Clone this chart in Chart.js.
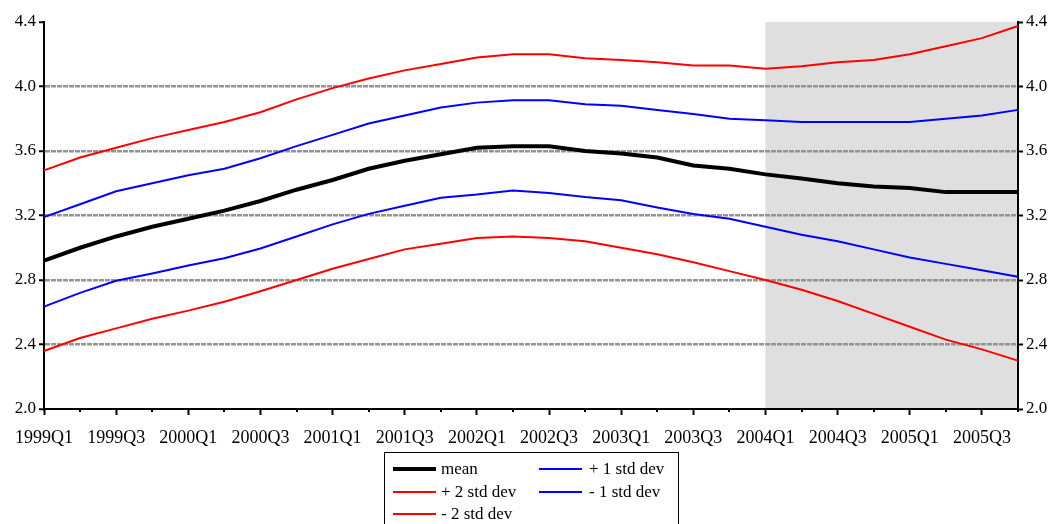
<!DOCTYPE html>
<html>
<head>
<meta charset="utf-8">
<title>Forecast bands</title>
<style>
  html, body { margin: 0; padding: 0; background: #fff; overflow: hidden; }
  #wrap { position: relative; width: 1053px; height: 524px; overflow: hidden; }
  #legend {
    position: absolute; left: 384px; top: 452px; width: 295px; height: 90px;
    border: 1.5px solid #000; box-sizing: border-box;
    font-family: 'Liberation Serif', serif; font-size: 17px; color: #000;
  }
  .item { position: absolute; height: 22px; line-height: 22px; width: 140px; }
  .swatch { position: absolute; left: 0; width: 43px; }
  .label { position: absolute; white-space: nowrap; }
</style>
<script src="https://cdn.jsdelivr.net/npm/chart.js@4.4.0/dist/chart.umd.min.js"></script>
</head>
<body>
<div id="wrap">
  <canvas id="Chart" width="1053" height="524"></canvas>
  <div id="legend"></div>
</div>
<script>
    // quarters 1999Q1 .. 2005Q4
    var quarters = ['1999Q1','1999Q2','1999Q3','1999Q4','2000Q1','2000Q2','2000Q3','2000Q4',
                    '2001Q1','2001Q2','2001Q3','2001Q4','2002Q1','2002Q2','2002Q3','2002Q4',
                    '2003Q1','2003Q2','2003Q3','2003Q4','2004Q1','2004Q2','2004Q3','2004Q4',
                    '2005Q1','2005Q2','2005Q3','2005Q4'];
    var shadeFrom = '2004Q1';
    var yTicks = [2.0, 2.4, 2.8, 3.2, 3.6, 4.0, 4.4];

    var mean   = [2.92, 3.00, 3.07, 3.13, 3.18, 3.23, 3.29, 3.36, 3.42, 3.49, 3.54, 3.58, 3.62, 3.63,
                  3.63, 3.60, 3.585, 3.56, 3.51, 3.49, 3.455, 3.43, 3.40, 3.38, 3.37, 3.345, 3.345, 3.345];
    var plus2  = [3.48, 3.56, 3.62, 3.68, 3.73, 3.78, 3.84, 3.92, 3.99, 4.05, 4.10, 4.14, 4.18, 4.20,
                  4.20, 4.175, 4.165, 4.15, 4.13, 4.13, 4.11, 4.125, 4.15, 4.165, 4.20, 4.25, 4.30, 4.375];
    var minus2 = [2.36, 2.44, 2.50, 2.56, 2.61, 2.665, 2.73, 2.80, 2.87, 2.93, 2.99, 3.025, 3.06, 3.07,
                  3.06, 3.04, 3.00, 2.96, 2.91, 2.855, 2.80, 2.74, 2.67, 2.59, 2.51, 2.43, 2.37, 2.30];
    var plus1  = [3.19, 3.27, 3.35, 3.40, 3.45, 3.49, 3.555, 3.63, 3.70, 3.77, 3.82, 3.87, 3.90, 3.915,
                  3.915, 3.89, 3.88, 3.855, 3.83, 3.80, 3.79, 3.78, 3.78, 3.78, 3.78, 3.80, 3.82, 3.855];
    var minus1 = [2.635, 2.72, 2.795, 2.84, 2.89, 2.935, 2.995, 3.07, 3.145, 3.21, 3.26, 3.31, 3.33, 3.355,
                  3.34, 3.315, 3.295, 3.25, 3.21, 3.18, 3.13, 3.08, 3.04, 2.99, 2.94, 2.90, 2.86, 2.82];

    var seriesNames = ['mean', '+ 2 std dev', '- 2 std dev', '+ 1 std dev', '- 1 std dev'];
    var seriesData = [mean, plus2, minus2, plus1, minus1];
    var seriesColors = ['#000000', '#ff0000', '#ff0000', '#0000ff', '#0000ff'];
    var seriesWidths = [4, 2, 2, 2, 2];

    var FONT = { family: "'Liberation Serif', 'Times New Roman', serif", size: 17 };
    var XFONT = { family: "'Liberation Serif', 'Times New Roman', serif", size: 18 };

    // grey forecast area + short minor ticks on the date axis
    var bandPlugin = {
        id: 'bands',
        beforeDraw: function(chart) {
            var ctx = chart.ctx, area = chart.chartArea, x = chart.scales.x;
            var x0 = x.getPixelForValue(quarters.indexOf(shadeFrom));
            ctx.save();
            ctx.fillStyle = '#dfdfdf';
            ctx.fillRect(x0, area.top, area.right - x0, area.bottom - area.top);
            ctx.restore();
        },
        afterDraw: function(chart) {
            var ctx = chart.ctx, area = chart.chartArea, x = chart.scales.x;
            ctx.save();
            ctx.strokeStyle = '#000';
            ctx.lineWidth = 2;
            ctx.beginPath();
            for (var i = 1; i < quarters.length; i += 2) {
                var px = Math.round(x.getPixelForValue(i));
                ctx.moveTo(px, area.bottom);
                ctx.lineTo(px, area.bottom + 3);
            }
            ctx.stroke();
            ctx.restore();
        }
    };

    var ctx = document.getElementById('Chart').getContext('2d');
    var chart = new Chart(ctx, {
        type: 'line',
        data: {
            labels: quarters,
            datasets: seriesData.map(function(d, i) {
                return {
                    label: seriesNames[i],
                    data: d,
                    borderColor: seriesColors[i],
                    backgroundColor: seriesColors[i],
                    borderWidth: seriesWidths[i],
                    pointRadius: 0,
                    tension: 0,
                    fill: false,
                    order: i === 0 ? 0 : 1
                };
            })
        },
        options: {
            responsive: false,
            animation: false,
            devicePixelRatio: 1,
            layout: { padding: { top: 22, bottom: 75, left: 0, right: 0 } },
            plugins: { legend: { display: false }, tooltip: { enabled: false } },
            scales: {
                x: {
                    type: 'category',
                    offset: false,
                    afterFit: function(s) { s.height = 40; },
                    grid: {
                        drawOnChartArea: false,
                        tickLength: 6,
                        tickWidth: 2,
                        tickColor: function(c) { return c.index % 2 ? 'rgba(0,0,0,0)' : '#000'; }
                    },
                    border: { color: '#000', width: 2 },
                    ticks: {
                        autoSkip: false, maxRotation: 0, padding: 12,
                        color: '#000', font: XFONT,
                        callback: function(v, i) { return i % 2 ? '' : quarters[i]; }
                    }
                },
                y: {
                    position: 'left',
                    min: yTicks[0], max: yTicks[yTicks.length - 1],
                    afterFit: function(s) { s.width = 44; },
                    afterBuildTicks: function(s) { s.ticks = yTicks.map(function(v) { return { value: v }; }); },
                    grid: {
                        lineWidth: 2.5,
                        color: function(c) {
                            var v = c.tick ? c.tick.value : null;
                            return (v === yTicks[0] || v === yTicks[yTicks.length - 1]) ? 'rgba(0,0,0,0)' : '#949494';
                        },
                        tickLength: 5,
                        tickColor: '#000',
                        tickWidth: 2
                    },
                    border: { color: '#000', width: 2, dash: [5, 1] },
                    ticks: {
                        padding: 3, color: '#000', font: FONT,
                        callback: function(v) { return Number(v).toFixed(1); }
                    }
                },
                y2: {
                    position: 'right',
                    min: yTicks[0], max: yTicks[yTicks.length - 1],
                    afterFit: function(s) { s.width = 35; },
                    afterBuildTicks: function(s) { s.ticks = yTicks.map(function(v) { return { value: v }; }); },
                    grid: { drawOnChartArea: false, tickLength: 5, tickColor: '#000', tickWidth: 2 },
                    border: { color: '#000', width: 2 },
                    ticks: {
                        padding: 3, color: '#000', font: FONT,
                        callback: function(v) { return Number(v).toFixed(1); }
                    }
                }
            }
        },
        plugins: [bandPlugin]
    });

    // legend: three rows, filled column by column
    var legendHtml = '';
    seriesNames.forEach(function(name, i) {
        var col = Math.floor(i / 3), row = i % 3;
        var left = col === 0 ? 8 : 154;
        var top = 5 + row * 22.5;
        legendHtml += '<div class="item" style="left:' + left + 'px;top:' + top + 'px">' +
            '<div class="swatch" style="top:' + (11 - seriesWidths[i] / 2) + 'px;border-top:' +
            seriesWidths[i] + 'px solid ' + seriesColors[i] + '"></div>' +
            '<div class="label" style="left:' + (col === 0 ? 48 : 50) + 'px">' + name + '</div></div>';
    });
    document.getElementById('legend').innerHTML = legendHtml;
</script>
</body>
</html>
